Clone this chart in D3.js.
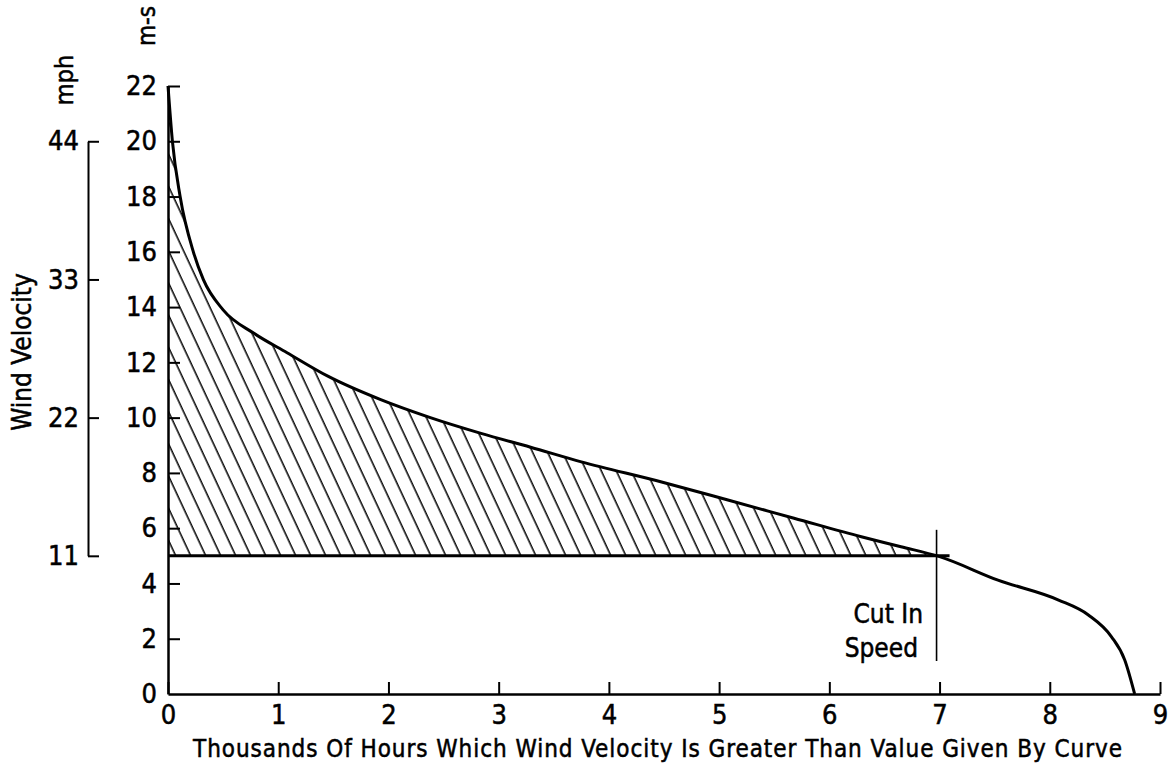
<!DOCTYPE html>
<html>
<head>
<meta charset="utf-8">
<script src="https://cdn.jsdelivr.net/npm/d3@7"></script>
<style>
	body { margin: 0; background: #fff; }
	svg text { font-family: 'DejaVu Sans Condensed', 'DejaVu Sans', sans-serif; font-stretch: condensed; fill: #000; stroke: #000; stroke-width: 0.5px; }
</style>
</head>
<body>
<svg class="wind-chart" width="1171" height="766"></svg>
<script>
// duration curve (thousands of hours, m/s)
let hours = [0, 0.04, 0.11, 0.23, 0.32, 0.50, 0.78, 1.08, 1.45, 1.93, 2.38, 2.84, 3.29, 3.75, 4.47, 5.08, 5.68, 6.29, 6.65, 7.00, 7.53, 8.08, 8.35, 8.56, 8.68, 8.77];
let speed = [22, 20, 18, 16, 15, 13.9, 13.05, 12.35, 11.5, 10.65, 10.0, 9.43, 8.93, 8.4, 7.68, 7.02, 6.36, 5.69, 5.33, 4.97, 4.12, 3.4, 2.86, 2.07, 1.23, 0];

let hourTicks = [0, 1, 2, 3, 4, 5, 6, 7, 8, 9];
let msTicks = [2, 4, 6, 8, 10, 12, 14, 16, 18, 20, 22];
let mphTicks = [11, 22, 33, 44];
let cutIn = { hours: 7, speed: 5 };

let svg = d3.select('.wind-chart');

let x = d3.scaleLinear().domain([0, 9]).range([168, 1160]);
let y = d3.scaleLinear().domain([0, 22]).range([694, 86]);
// mph bracket sits so 11 mph lines up with 5 m/s and 44 mph with 20 m/s
let yMph = d3.scaleLinear().domain([11, 44]).range([y(5), y(20)]);

let points = hours.map(function(h, i) { return { h: h, v: speed[i] }; });

// hatch pattern
let defs = svg.append('defs');
defs.append('pattern')
	.attr('id', 'hatch')
	.attr('patternUnits', 'userSpaceOnUse')
	.attr('width', 13.6)
	.attr('height', 20)
	.attr('patternTransform', 'rotate(-25)')
	.append('line')
	.attr('x1', 6).attr('y1', -2)
	.attr('x2', 6).attr('y2', 22)
	.attr('stroke', '#000')
	.attr('stroke-width', 1.5);

defs.append('clipPath')
	.attr('id', 'usable')
	.append('rect')
	.attr('x', x(0))
	.attr('y', 0)
	.attr('width', x(cutIn.hours) - x(0))
	.attr('height', y(cutIn.speed));

let area = d3.area()
	.x(function(d) { return x(d.h); })
	.y0(y(cutIn.speed))
	.y1(function(d) { return y(d.v); })
	.curve(d3.curveMonotoneX);

svg.append('path')
	.datum(points)
	.attr('d', area)
	.attr('fill', 'url(#hatch)')
	.attr('clip-path', 'url(#usable)');

// cut in speed line
svg.append('line')
	.attr('x1', x(0)).attr('x2', x(cutIn.hours) + 10)
	.attr('y1', y(cutIn.speed)).attr('y2', y(cutIn.speed))
	.attr('stroke', '#000').attr('stroke-width', 3);

svg.append('line')
	.attr('x1', x(cutIn.hours) - 3).attr('x2', x(cutIn.hours) - 3)
	.attr('y1', y(cutIn.speed) - 26).attr('y2', 661)
	.attr('stroke', '#000').attr('stroke-width', 1.6);

// curve
let line = d3.line()
	.x(function(d) { return x(d.h); })
	.y(function(d) { return y(d.v); })
	.curve(d3.curveMonotoneX);

svg.append('path')
	.datum(points)
	.attr('d', line)
	.attr('fill', 'none')
	.attr('stroke', '#000')
	.attr('stroke-width', 3);

// axes
let xAxis = svg.append('g')
	.attr('transform', 'translate(0,' + y(0) + ')')
	.call(d3.axisBottom(x).tickValues(hourTicks).tickFormat(d3.format('d'))
		.tickSizeInner(-12).tickSizeOuter(0).tickPadding(11));

let yAxis = svg.append('g')
	.attr('transform', 'translate(' + x(0) + ',0)')
	.call(d3.axisLeft(y).tickValues(msTicks).tickFormat(d3.format('d'))
		.tickSizeInner(-12).tickSizeOuter(0).tickPadding(11));

let mphAxis = svg.append('g')
	.attr('transform', 'translate(88,0)')
	.call(d3.axisLeft(yMph).tickValues(mphTicks).tickFormat(d3.format('d'))
		.tickSizeInner(-11).tickSizeOuter(0).tickPadding(9));

[xAxis, yAxis, mphAxis].forEach(function(a) {
	a.attr('font-family', null).attr('font-size', null);
	a.select('.domain').attr('stroke-width', 2.5);
	a.selectAll('.tick line').attr('stroke-width', 2);
	a.selectAll('.tick text').style('font-size', '27px');
});
mphAxis.select('.domain').attr('stroke-width', 2);

// y axis zero label
svg.append('text')
	.attr('x', x(0) - 11)
	.attr('y', y(0))
	.attr('dy', '0.32em')
	.attr('text-anchor', 'end')
	.style('font-size', '27px')
	.text('0');

// labels
svg.append('text')
	.attr('x', 193)
	.attr('y', 757)
	.attr('textLength', 929)
	.style('font-size', '24px')
	.text('Thousands Of Hours Which Wind Velocity Is Greater Than Value Given By Curve');

svg.append('text')
	.attr('transform', 'translate(31,352) rotate(-90)')
	.attr('text-anchor', 'middle')
	.style('font-size', '26px')
	.text('Wind Velocity');

svg.append('text')
	.attr('transform', 'translate(73,80) rotate(-90)')
	.attr('text-anchor', 'middle')
	.style('font-size', '25px')
	.text('mph');

svg.append('text')
	.attr('transform', 'translate(155,26) rotate(-90)')
	.attr('text-anchor', 'middle')
	.style('font-size', '24px')
	.text('m-s');

svg.append('text')
	.attr('x', 923)
	.attr('y', 623)
	.attr('text-anchor', 'end')
	.style('font-size', '26px')
	.text('Cut In');

svg.append('text')
	.attr('x', 918)
	.attr('y', 657)
	.attr('text-anchor', 'end')
	.style('font-size', '26px')
	.text('Speed');
</script>
</body>
</html>
